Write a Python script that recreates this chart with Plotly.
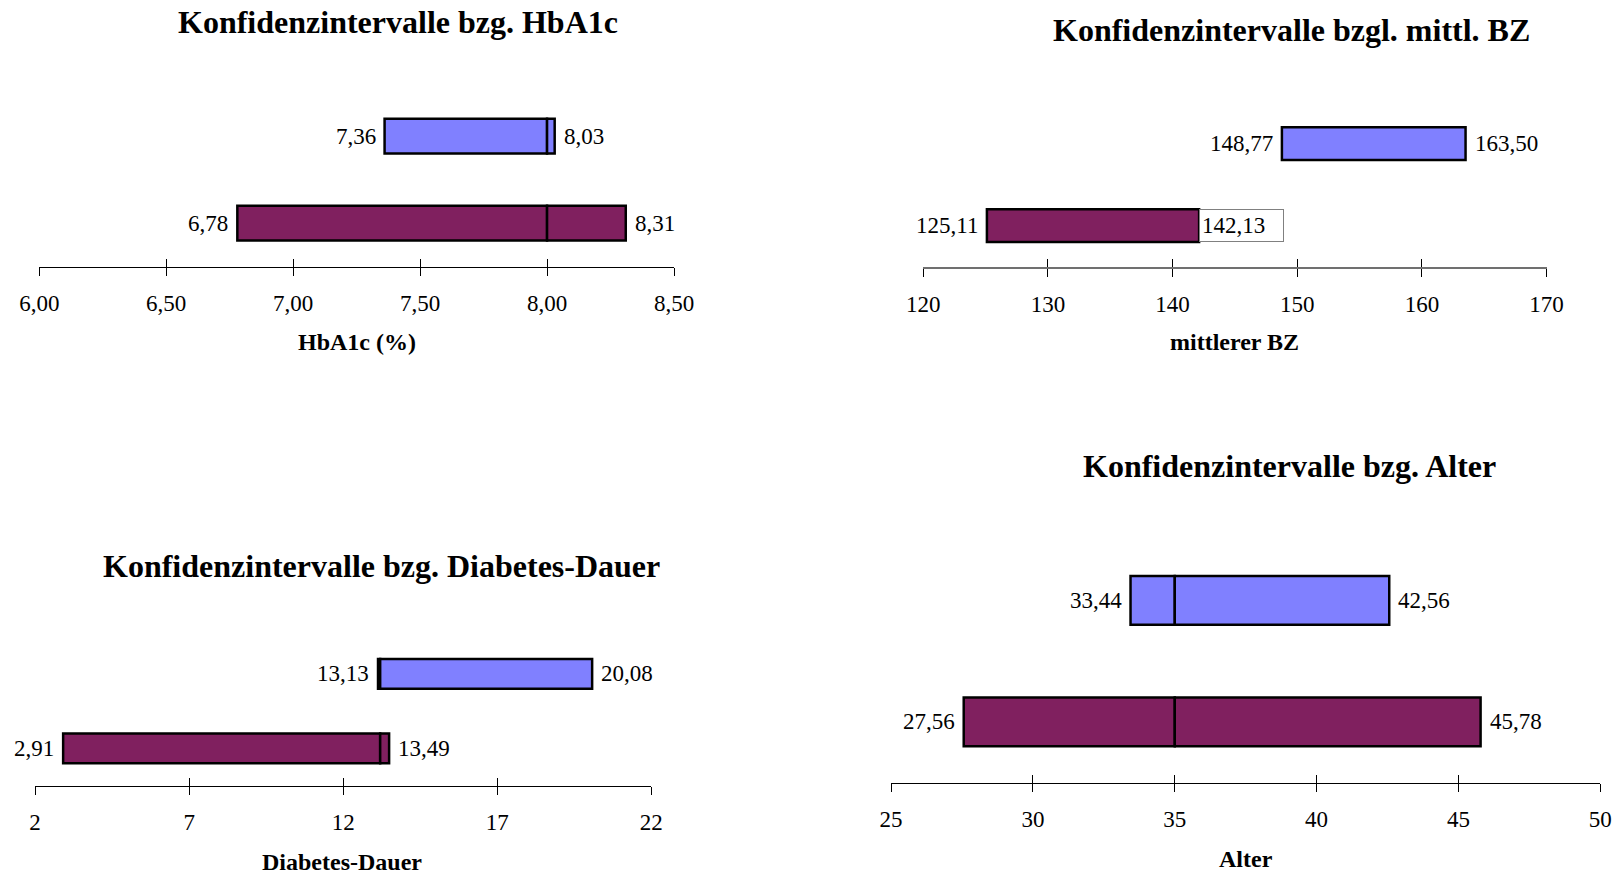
import plotly.graph_objects as go

W, H = 1621, 875

# ---------------- data ----------------
rows = [0, 1]  # 0 = lower (purple) bar, 1 = upper (blue) bar

hba_lo = [6.78, 7.36]
hba_hi = [8.31, 8.03]
hba_ref = 8.00
hba_ticks = [6.0, 6.5, 7.0, 7.5, 8.0, 8.5]

bz_lo = [125.11, 148.77]
bz_hi = [142.13, 163.50]
bz_ticks = [120, 130, 140, 150, 160, 170]

dd_lo = [2.91, 13.13]
dd_hi = [13.49, 20.08]
dd_ref = 13.2
dd_ticks = [2, 7, 12, 17, 22]

alt_lo = [27.56, 33.44]
alt_hi = [45.78, 42.56]
alt_ref = 35
alt_ticks = [25, 30, 35, 40, 45, 50]

titles = ["Konfidenzintervalle bzg. HbA1c", "Konfidenzintervalle bzgl. mittl. BZ",
          "Konfidenzintervalle bzg. Diabetes-Dauer", "Konfidenzintervalle bzg. Alter"]
xtitles = ["HbA1c (%)", "mittlerer BZ", "Diabetes-Dauer", "Alter"]

PURPLE = "#80205F"
BLUE = "#8080FF"
COLORS = [PURPLE, BLUE]
FONT = "Liberation Serif"

# ---------------- layout geometry (pixels) ----------------
panels = [
    dict(lo=hba_lo, hi=hba_hi, ref=hba_ref, ticks=hba_ticks, dec=2,
         x0=39.3, x1=674.0, axis=266.7, unit=87.0, title=(398, 22), xt=(356.7, 342), axcol="black", axw=1),
    dict(lo=bz_lo, hi=bz_hi, ref=None, ticks=bz_ticks, dec=0,
         x0=923.2, x1=1546.6, axis=266.7, unit=82.0, title=(1291, 30), xt=(1234, 342), axcol="#707070", axw=2),
    dict(lo=dd_lo, hi=dd_hi, ref=dd_ref, ticks=dd_ticks, dec=0,
         x0=35.1, x1=651.3, axis=785.7, unit=74.5, title=(381.5, 566), xt=(342.2, 862), axcol="black", axw=1),
    dict(lo=alt_lo, hi=alt_hi, ref=alt_ref, ticks=alt_ticks, dec=0,
         x0=891.1, x1=1600.3, axis=782.6, unit=121.5, title=(1289, 466), xt=(1245.7, 859), axcol="black", axw=1),
]


def fmt(v, dec=2):
    return f"{v:.{dec}f}".replace(".", ",")


fig = go.Figure()
annotations = []
layout = {}
LBL = 23
BW = 2.5

for i, p in enumerate(panels):
    n = i + 1
    xa = "x" if n == 1 else f"x{n}"
    ya = "y" if n == 1 else f"y{n}"
    xkey = "xaxis" if n == 1 else f"xaxis{n}"
    ykey = "yaxis" if n == 1 else f"yaxis{n}"
    ov = 4 + n
    ovkey = f"xaxis{ov}"

    lo, hi, ref = p["lo"], p["hi"], p["ref"]
    if ref is None:
        fig.add_trace(go.Bar(y=rows, base=lo, x=[h - l for l, h in zip(lo, hi)], orientation="h",
                             width=0.4, marker=dict(color=COLORS, line=dict(color="black", width=BW)),
                             xaxis=xa, yaxis=ya, showlegend=False, hoverinfo="skip"))
    else:
        fig.add_trace(go.Bar(y=rows, base=lo, x=[ref - l for l in lo], orientation="h",
                             width=0.4, marker=dict(color=COLORS, line=dict(color="black", width=BW)),
                             xaxis=xa, yaxis=ya, showlegend=False, hoverinfo="skip"))
        fig.add_trace(go.Bar(y=rows, base=[ref, ref], x=[h - ref for h in hi], orientation="h",
                             width=0.4, marker=dict(color=COLORS, line=dict(color="black", width=BW)),
                             xaxis=xa, yaxis=ya, showlegend=False, hoverinfo="skip"))

    tv = p["ticks"]
    tt = [fmt(t, 2) if p["dec"] == 2 else f"{t:g}" for t in tv]
    dom_x = [p["x0"] / W, p["x1"] / W]
    ybot = 1 - p["axis"] / H
    ytop = 1 - (p["axis"] - 2 * p["unit"]) / H
    layout[xkey] = dict(domain=dom_x, range=[tv[0], tv[-1]], anchor=ya, showgrid=False, zeroline=False,
                        automargin=False,
                        showline=True, linecolor=p["axcol"], linewidth=p["axw"],
                        ticks="outside", ticklen=8, tickcolor="black", tickwidth=1,
                        tickvals=tv, ticktext=tt, ticklabelstandoff=8,
                        tickfont=dict(family=FONT, size=23, color="black"))
    layout[ovkey] = dict(domain=dom_x, range=[tv[0], tv[-1]], anchor=ya, overlaying=xa, side="bottom",
                         showgrid=False, zeroline=False, showline=False, automargin=False,
                         ticks="inside", ticklen=8, tickcolor="black", tickwidth=1,
                         tickvals=tv, showticklabels=False)
    layout[ykey] = dict(domain=[ybot, ytop], range=[-0.5, 1.5], visible=False, fixedrange=True,
                        automargin=False)
    # invisible trace so the overlay axis is drawn
    fig.add_trace(go.Scatter(x=[tv[0]], y=[-0.5], mode="markers", marker=dict(opacity=0),
                             xaxis=f"x{ov}", yaxis=ya, showlegend=False, hoverinfo="skip"))

    # value labels
    for r in rows:
        annotations.append(dict(x=lo[r], y=r, xref=xa, yref=ya, text=fmt(lo[r]), showarrow=False,
                                xanchor="right", xshift=-7, font=dict(family=FONT, size=LBL, color="black")))
        if p["ref"] is None and r == 0:
            annotations.append(dict(x=hi[r], y=r, xref=xa, yref=ya, text=fmt(hi[r]), showarrow=False,
                                    xanchor="left", xshift=0, align="left", width=79, height=27,
                                    bgcolor="white", bordercolor="#808080", borderwidth=1, borderpad=2,
                                    font=dict(family=FONT, size=LBL, color="black")))
        else:
            annotations.append(dict(x=hi[r], y=r, xref=xa, yref=ya, text=fmt(hi[r]), showarrow=False,
                                    xanchor="left", xshift=7, font=dict(family=FONT, size=LBL, color="black")))

    # titles
    annotations.append(dict(x=p["title"][0] / W, y=1 - p["title"][1] / H, xref="paper", yref="paper",
                            text=f"<b>{titles[i]}</b>", showarrow=False, xanchor="center", yanchor="middle",
                            font=dict(family=FONT, size=32, color="black")))
    annotations.append(dict(x=p["xt"][0] / W, y=1 - p["xt"][1] / H, xref="paper", yref="paper",
                            text=f"<b>{xtitles[i]}</b>", showarrow=False, xanchor="center", yanchor="middle",
                            font=dict(family=FONT, size=24, color="black")))

fig.update_layout(**layout)
fig.update_layout(width=W, height=H, margin=dict(l=0, r=0, t=0, b=0, autoexpand=False), barmode="overlay",
                  paper_bgcolor="white", plot_bgcolor="white", annotations=annotations,
                  showlegend=False, font=dict(family=FONT, color="black"))

fig.write_html("out.html", config={"displayModeBar": False},
               post_script="document.body.style.margin='0';document.body.style.overflow='hidden';")
